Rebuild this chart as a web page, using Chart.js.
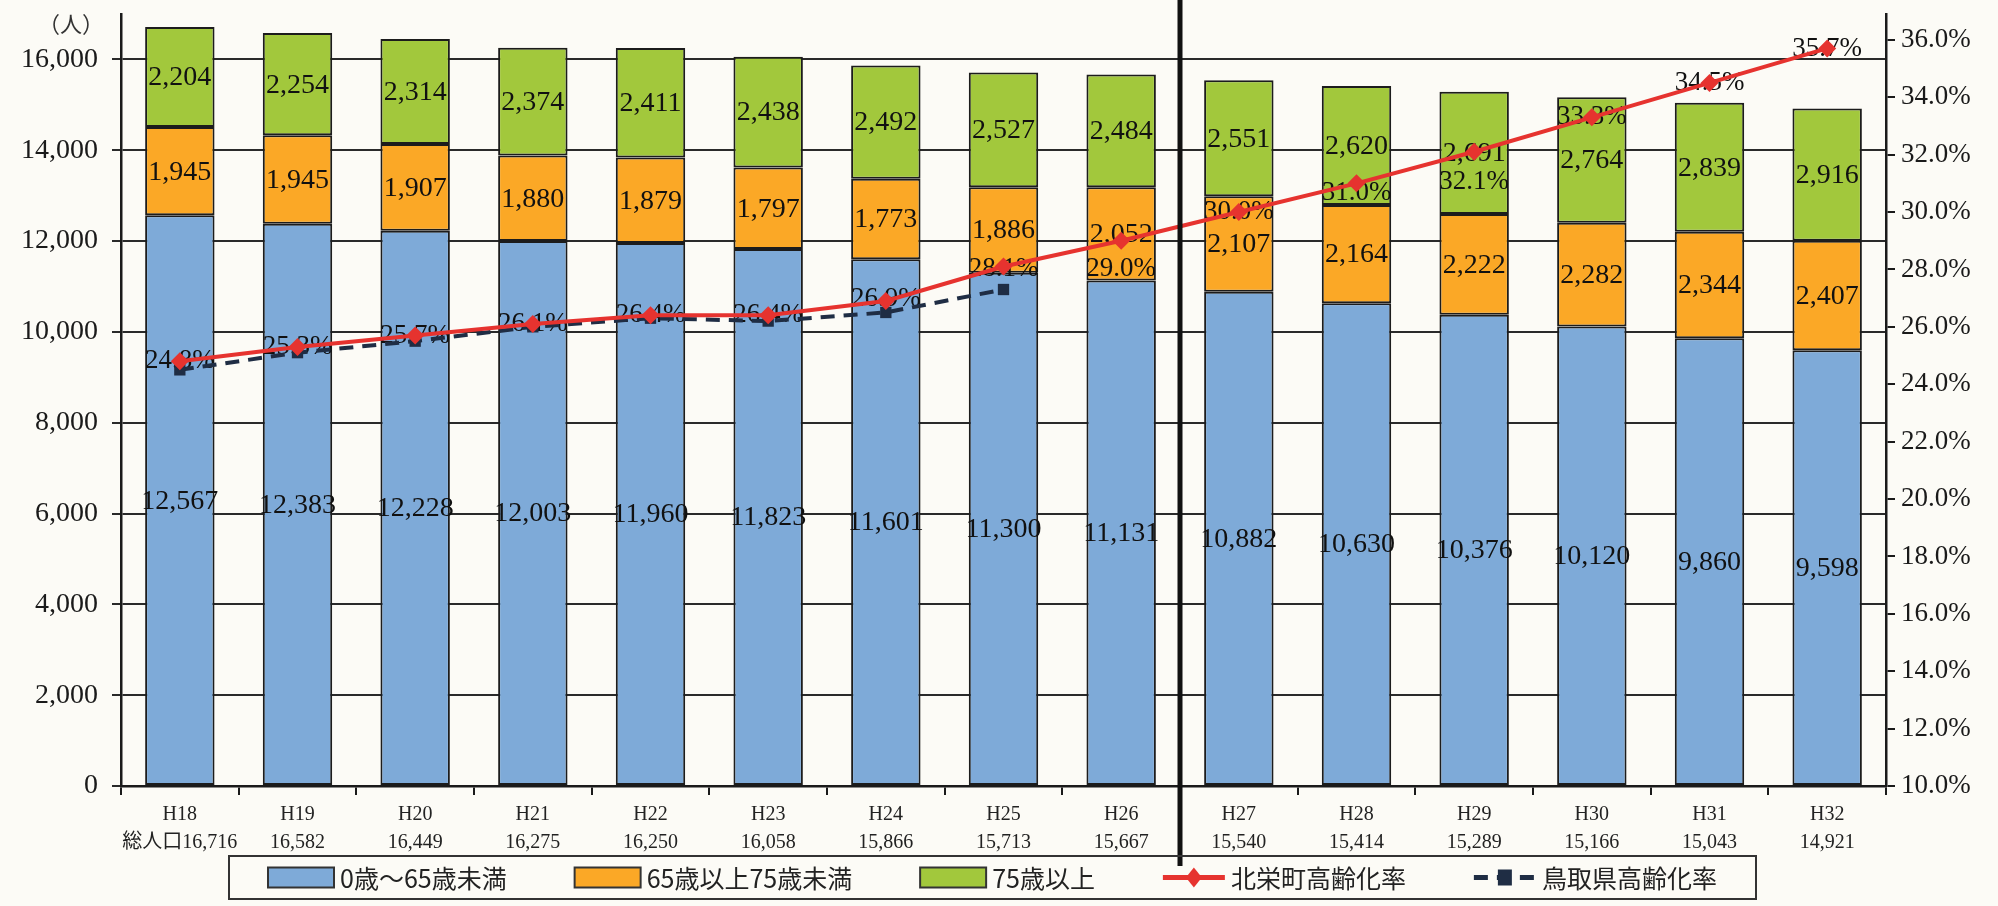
<!DOCTYPE html>
<html lang="ja">
<head>
<meta charset="utf-8">
<script src="https://cdn.jsdelivr.net/npm/chart.js@4/dist/chart.umd.min.js"></script>
<style>
  html, body { margin: 0; padding: 0; background: #fcfbf6; }
  #wrap { width: 1998px; height: 906px; }
</style>
</head>
<body>
<div id="wrap"><canvas id="chart" width="1998" height="906"></canvas></div>
<script>
// ---------- データ ----------
const years = ['H18', 'H19', 'H20', 'H21', 'H22', 'H23', 'H24', 'H25',
               'H26', 'H27', 'H28', 'H29', 'H30', 'H31', 'H32'];
const totals = [16716, 16582, 16449, 16275, 16250, 16058, 15866, 15713,
                15667, 15540, 15414, 15289, 15166, 15043, 14921];
const under65 = [12567, 12383, 12228, 12003, 11960, 11823, 11601, 11300,
                 11131, 10882, 10630, 10376, 10120, 9860, 9598];
const age65to74 = [1945, 1945, 1907, 1880, 1879, 1797, 1773, 1886,
                   2052, 2107, 2164, 2222, 2282, 2344, 2407];
const over75 = [2204, 2254, 2314, 2374, 2411, 2438, 2492, 2527,
                2484, 2551, 2620, 2691, 2764, 2839, 2916];
const hokueiRate = [24.8, 25.3, 25.7, 26.1, 26.4, 26.4, 26.9, 28.1,
                    29.0, 30.0, 31.0, 32.1, 33.3, 34.5, 35.7];
const tottoriRate = [24.5, 25.1, 25.5, 26.0, 26.3, 26.2, 26.5, 27.3];
const seriesNames = ['0歳～65歳未満', '65歳以上75歳未満', '75歳以上', '北栄町高齢化率', '鳥取県高齢化率'];

// 目盛り
const peopleTicks = [0, 2000, 4000, 6000, 8000, 10000, 12000, 14000, 16000];
const rateTicks = [10, 12, 14, 16, 18, 20, 22, 24, 26, 28, 30, 32, 34, 36];

// 高齢化率ラベルの縦ずれ (px)。点に重ならないよう一部だけ下げる
const rateLabelDy = [0, 0, 0, 0, 0, 0, -2, 2, 28, 0, 10, 30, 0, 0, 0];

// ---------- スタイル ----------
const SERIF = "'Liberation Serif', 'Noto Sans CJK JP', serif";
const JP = "'Noto Sans CJK JP', sans-serif";
const BLUE = '#7eaad8';
const ORANGE = '#fba826';
const GREEN = '#a2c83c';
const RED = '#e6332f';
const NAVY = '#1f2d44';
const INK = '#1a1a1a';

const xLabels = years.map((y, i) =>
  [y, (i === 0 ? '総人口' : '') + totals[i].toLocaleString('en-US')]);

// 棒・折れ線の値ラベル
const labelPlugin = {
  id: 'valueLabels',
  beforeDatasetsDraw(chart) { chart.$rateLabelsDone = false; },
  afterDatasetDraw(chart, args) {
    const ds = chart.data.datasets[args.index];
    if (ds.type !== 'bar') return;
    const ctx = chart.ctx;
    ctx.save();
    ctx.font = `28px ${SERIF}`;
    ctx.fillStyle = '#111';
    ctx.textAlign = 'center';
    ctx.textBaseline = 'middle';
    args.meta.data.forEach((el, i) => {
      ctx.fillText(ds.data[i].toLocaleString('en-US'), el.x, (el.y + el.base) / 2 + 1);
    });
    ctx.restore();
  },
  // 折れ線より先に描く (マーカーが文字の上に乗る)
  beforeDatasetDraw(chart, args) {
    const ds = chart.data.datasets[args.index];
    if (ds.type !== 'line' || chart.$rateLabelsDone) return;
    chart.$rateLabelsDone = true;
    const meta = chart.getDatasetMeta(3);
    const ctx = chart.ctx;
    ctx.save();
    ctx.font = `27px ${SERIF}`;
    ctx.fillStyle = '#111';
    ctx.textAlign = 'center';
    ctx.textBaseline = 'middle';
    meta.data.forEach((pt, i) => {
      ctx.fillText(hokueiRate[i].toFixed(1) + '%', pt.x, pt.y + rateLabelDy[i]);
    });
    ctx.restore();
  }
};

// 実績と推計の区切り線、単位、凡例
const decorPlugin = {
  id: 'decor',
  afterDraw(chart) {
    const ctx = chart.ctx;
    const x = chart.scales.x;
    const sepX = (x.getPixelForValue(8) + x.getPixelForValue(9)) / 2;
    ctx.save();
    ctx.strokeStyle = '#111';
    ctx.lineWidth = 5;
    ctx.beginPath();
    ctx.moveTo(sepX, 0);
    ctx.lineTo(sepX, 866);
    ctx.stroke();

    ctx.font = `22px ${JP}`;
    ctx.fillStyle = '#333';
    ctx.textAlign = 'left';
    ctx.textBaseline = 'middle';
    ctx.fillText('（人）', 38, 24);

    // 凡例
    const frame = { left: 229, top: 856, right: 1756, bottom: 899 };
    ctx.strokeStyle = '#333';
    ctx.lineWidth = 2;
    ctx.strokeRect(frame.left, frame.top, frame.right - frame.left, frame.bottom - frame.top);
    const cy = (frame.top + frame.bottom) / 2;
    let cx = 268;
    ctx.font = `25px ${JP}`;
    chart.data.datasets.forEach(ds => {
      if (ds.type === 'bar') {
        ctx.fillStyle = ds.backgroundColor;
        ctx.fillRect(cx, cy - 10, 66, 20);
        ctx.strokeStyle = '#333';
        ctx.lineWidth = 2;
        ctx.setLineDash([]);
        ctx.strokeRect(cx, cy - 10, 66, 20);
        cx += 66;
      } else {
        ctx.strokeStyle = ds.borderColor;
        ctx.lineWidth = 5;
        ctx.setLineDash(ds.borderDash || []);
        ctx.beginPath();
        ctx.moveTo(cx, cy);
        ctx.lineTo(cx + 62, cy);
        ctx.stroke();
        ctx.setLineDash([]);
        ctx.fillStyle = ds.borderColor;
        ctx.beginPath();
        if (ds.pointStyle === 'rectRot') {
          ctx.moveTo(cx + 31, cy - 10);
          ctx.lineTo(cx + 39, cy);
          ctx.lineTo(cx + 31, cy + 10);
          ctx.lineTo(cx + 23, cy);
        } else {
          ctx.rect(cx + 24, cy - 8, 14, 16);
        }
        ctx.fill();
        cx += 62;
      }
      ctx.fillStyle = '#222';
      ctx.fillText(ds.label, cx + 6, cy + 1);
      cx += 6 + ctx.measureText(ds.label).width + 68;
    });
    ctx.restore();
  }
};

// 縦軸: 目盛りラベル分の上下余白を取らない
function fitY(width) {
  return scale => {
    scale.width = width;
    scale.paddingTop = 0;
    scale.paddingBottom = 0;
  };
}

new Chart(document.getElementById('chart'), {
  data: {
    labels: xLabels,
    datasets: [
      { type: 'bar', label: seriesNames[0], data: under65, backgroundColor: BLUE,
        borderColor: '#1c1c1c', borderWidth: 2, borderSkipped: false, order: 3 },
      { type: 'bar', label: seriesNames[1], data: age65to74, backgroundColor: ORANGE,
        borderColor: '#1c1c1c', borderWidth: 2, borderSkipped: false, order: 3 },
      { type: 'bar', label: seriesNames[2], data: over75, backgroundColor: GREEN,
        borderColor: '#1c1c1c', borderWidth: 2, borderSkipped: false, order: 3 },
      { type: 'line', label: seriesNames[3], data: hokueiRate, yAxisID: 'y2',
        borderColor: RED, backgroundColor: RED, borderWidth: 4,
        pointStyle: 'rectRot', pointRadius: 9, pointBorderWidth: 0, order: 1 },
      { type: 'line', label: seriesNames[4], data: tottoriRate, yAxisID: 'y2',
        borderColor: NAVY, backgroundColor: NAVY, borderWidth: 4, borderDash: [14, 9],
        pointStyle: 'rect', pointRadius: 8, pointBorderWidth: 0, order: 2 }
    ]
  },
  options: {
    responsive: false,
    devicePixelRatio: 1,
    animation: false,
    layout: { padding: { top: 14, left: 0, right: 0, bottom: 0 } },
    datasets: { bar: { barPercentage: 0.59, categoryPercentage: 1 } },
    plugins: {
      legend: { display: false },
      tooltip: { enabled: false }
    },
    scales: {
      x: {
        stacked: true,
        afterFit(scale) { scale.height = 120; },
        grid: { drawOnChartArea: false, color: INK, lineWidth: 2, tickLength: 9 },
        border: { color: INK, width: 2.5 },
        ticks: {
          color: '#222', padding: 6, autoSkip: false, maxRotation: 0,
          font: { family: SERIF, size: 20, lineHeight: 1.4 }
        }
      },
      y: {
        stacked: true,
        position: 'left',
        min: 0, max: 17000,
        afterFit: fitY(121),
        afterBuildTicks(scale) { scale.ticks = peopleTicks.map(v => ({ value: v })); },
        grid: { color: '#2a2a2a', lineWidth: 2, tickLength: 9 },
        border: { color: INK, width: 2.5 },
        ticks: {
          color: '#1a1a1a', padding: 14,
          font: { family: SERIF, size: 28 },
          callback: v => v.toLocaleString('en-US')
        }
      },
      y2: {
        position: 'right',
        min: 10, max: 36.9,
        afterFit: fitY(112),
        afterBuildTicks(scale) { scale.ticks = rateTicks.map(v => ({ value: v })); },
        grid: { drawOnChartArea: false, color: INK, lineWidth: 2, tickLength: 9 },
        border: { color: INK, width: 2.5 },
        ticks: {
          color: '#1a1a1a', padding: 6,
          font: { family: SERIF, size: 27 },
          callback: v => v.toFixed(1) + '%'
        }
      }
    }
  },
  plugins: [labelPlugin, decorPlugin]
});
</script>
</body>
</html>
